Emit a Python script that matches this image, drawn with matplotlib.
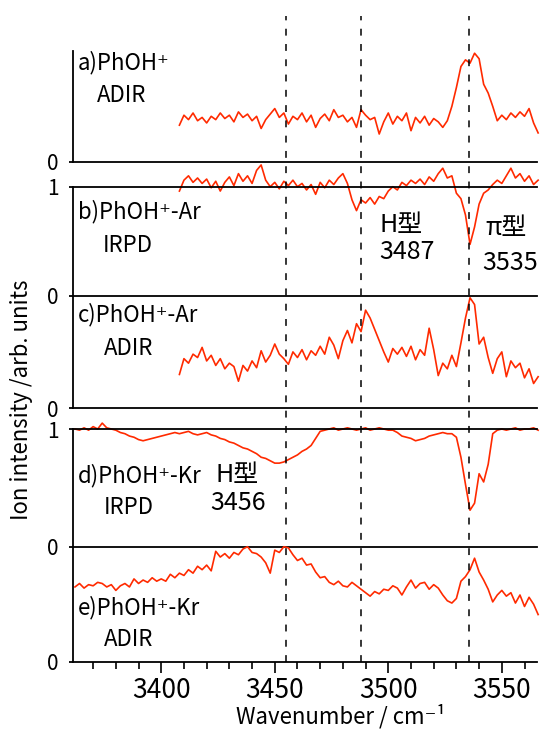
import numpy as np
import matplotlib
matplotlib.use("Agg")
import matplotlib.pyplot as plt
from matplotlib.ticker import MultipleLocator

plt.rcParams['font.family'] = ['Noto Sans CJK JP', 'DejaVu Sans']

start_short = 3408
start_long = 3362

a_adir = [0.33, 0.42, 0.38, 0.44, 0.37, 0.40, 0.35, 0.41, 0.38, 0.44,
          0.39, 0.42, 0.36, 0.45, 0.40, 0.43, 0.37, 0.41, 0.30, 0.38,
          0.43, 0.48, 0.40, 0.44, 0.34, 0.41, 0.38, 0.44, 0.36, 0.42,
          0.31, 0.39, 0.43, 0.37, 0.47, 0.40, 0.42, 0.36, 0.40, 0.31,
          0.47, 0.42, 0.38, 0.40, 0.25, 0.36, 0.44, 0.34, 0.41, 0.37,
          0.44, 0.28, 0.40, 0.35, 0.41, 0.33, 0.39, 0.36, 0.31, 0.37,
          0.50, 0.67, 0.86, 0.92, 0.89, 0.98, 0.93, 0.70, 0.62, 0.50,
          0.37, 0.42, 0.38, 0.44, 0.40, 0.45, 0.41, 0.48, 0.35, 0.26]

b_irpd = [0.96, 1.06, 1.10, 1.04, 1.08, 1.03, 1.07, 0.99, 1.05, 0.96,
          1.04, 1.09, 1.01, 1.12, 1.05, 1.10, 1.03, 1.15, 1.20, 1.06,
          1.00, 1.04, 0.98, 1.05, 1.01, 1.06, 1.00, 1.03, 0.97, 1.02,
          0.93, 1.04, 0.99, 1.06, 1.02, 1.08, 1.12, 1.03, 0.88, 0.78,
          0.88, 0.85, 0.90, 0.84, 0.91, 0.89, 0.96, 1.00, 0.97, 1.04,
          1.01, 1.06, 1.03, 1.07, 1.02, 1.09, 1.05, 1.12, 1.17, 1.08,
          1.10, 0.94, 0.89, 0.74, 0.47, 0.63, 0.84, 0.94, 0.97, 1.02,
          1.06, 1.03, 1.10, 1.17, 1.08, 1.12, 1.05, 1.10, 1.02, 1.06]

c_adir = [0.30, 0.44, 0.40, 0.48, 0.45, 0.54, 0.42, 0.47, 0.38, 0.44,
          0.35, 0.40, 0.37, 0.24, 0.38, 0.33, 0.42, 0.36, 0.51, 0.41,
          0.47, 0.57, 0.48, 0.44, 0.39, 0.50, 0.45, 0.52, 0.43, 0.51,
          0.47, 0.55, 0.48, 0.63, 0.56, 0.44, 0.60, 0.69, 0.58, 0.75,
          0.68, 0.87, 0.80, 0.70, 0.60, 0.50, 0.41, 0.53, 0.48, 0.54,
          0.46, 0.55, 0.43, 0.52, 0.47, 0.71, 0.52, 0.29, 0.40, 0.35,
          0.47, 0.37, 0.58, 0.80, 0.98, 0.92, 0.57, 0.63, 0.45, 0.31,
          0.44, 0.50, 0.28, 0.42, 0.36, 0.40, 0.27, 0.35, 0.22, 0.28]

d_irpd = [1.00, 0.99, 1.01, 0.99, 1.02, 1.00, 1.05, 1.01, 1.00, 0.99,
          0.97, 0.96, 0.94, 0.93, 0.91, 0.90, 0.91, 0.92, 0.93, 0.94,
          0.95, 0.96, 0.97, 0.96, 0.97, 0.98, 0.96, 0.95, 0.96, 0.97,
          0.95, 0.94, 0.92, 0.91, 0.89, 0.88, 0.86, 0.84, 0.83, 0.81,
          0.79, 0.76, 0.75, 0.73, 0.71, 0.71, 0.72, 0.74, 0.76, 0.78,
          0.81, 0.83, 0.86, 0.92, 0.98, 0.99, 1.00, 1.01, 0.99, 1.00,
          1.01, 1.00, 0.99, 1.00, 1.01, 0.99, 1.00, 1.01, 1.00, 0.99,
          0.99, 0.97, 0.94, 0.93, 0.92, 0.90, 0.91, 0.92, 0.94, 0.95,
          0.96, 0.97, 0.96, 0.96, 0.93, 0.76, 0.53, 0.31, 0.37, 0.62,
          0.55, 0.70, 0.96, 0.99, 1.00, 0.99, 1.00, 1.01, 0.99, 1.00,
          1.00, 1.01, 0.99]

e_adir = [0.65, 0.68, 0.64, 0.67, 0.66, 0.69, 0.68, 0.65, 0.67, 0.62,
          0.66, 0.68, 0.65, 0.72, 0.68, 0.71, 0.69, 0.73, 0.70, 0.72,
          0.70, 0.76, 0.73, 0.77, 0.75, 0.80, 0.77, 0.83, 0.80, 0.84,
          0.79, 0.96, 0.91, 0.94, 0.90, 0.95, 0.93, 0.98, 1.00, 0.95,
          0.94, 0.91, 0.86, 0.77, 0.97, 0.95, 1.00, 0.99, 0.93, 0.88,
          0.90, 0.84, 0.85, 0.78, 0.73, 0.74, 0.69, 0.67, 0.70, 0.66,
          0.65, 0.69, 0.66, 0.63, 0.60, 0.57, 0.61, 0.59, 0.63, 0.62,
          0.66, 0.64, 0.58, 0.65, 0.71, 0.64, 0.68, 0.69, 0.63, 0.67,
          0.64, 0.58, 0.53, 0.51, 0.55, 0.70, 0.74, 0.80, 0.90, 0.78,
          0.71, 0.63, 0.52, 0.58, 0.62, 0.57, 0.60, 0.51, 0.58, 0.48,
          0.56, 0.50, 0.41]

peak_lines = [3455, 3488, 3535.5]

W, H = 540, 731
fig = plt.figure(figsize=(W / 100, H / 100), dpi=100)

red = '#ff2a00'
xmin, xmax = 3361, 3565.5
left = 72.7 / W
width = 537 / W - left

def panel(top_px, bot_px, yt, x0, vals, top_line=False, xaxis=False):
    ax = fig.add_axes([left, 1 - bot_px / H, width, (bot_px - top_px) / H])
    x = x0 + 2 * np.arange(len(vals))
    ax.plot(x, vals, color=red, lw=1.2, clip_on=False)
    ax.set_xlim(xmin, xmax)
    ax.set_ylim(0, 1)
    ax.patch.set_alpha(0)
    for s in ['right', 'top']:
        ax.spines[s].set_visible(False)
    if top_line:
        ax.spines['top'].set_visible(True)
    for s in ax.spines.values():
        s.set_linewidth(1.3)
    ax.set_yticks(yt)
    ax.set_yticklabels([str(v) for v in yt])
    ax.tick_params(axis='y', length=3, width=1.3, direction='out', pad=7, labelsize=15)
    if xaxis:
        ax.xaxis.set_major_locator(MultipleLocator(50))
        ax.xaxis.set_minor_locator(MultipleLocator(10))
        ax.tick_params(axis='x', which='major', length=7.7, width=1.2, direction='out', pad=3, labelsize=19)
        ax.tick_params(axis='x', which='minor', length=4.8, width=1.2, direction='out')
    else:
        ax.tick_params(axis='x', which='both', bottom=False, labelbottom=False)
    return ax

panel(51, 161.7, [0], start_short, a_adir)
panel(186.7, 295.5, [0, 1], start_short, b_irpd, top_line=True)
panel(295.5, 408.3, [0], start_short, c_adir)
panel(429, 546.7, [0, 1], start_long, d_irpd, top_line=True)
panel(546.7, 661.7, [0], start_long, e_adir, xaxis=True)

# dashed guide lines across all panels
ov = fig.add_axes([left, 1 - 662 / H, width, (662 - 16) / H])
ov.set_xlim(xmin, xmax)
ov.set_ylim(0, 1)
ov.axis('off')
for xv in peak_lines:
    ov.axvline(xv, color='black', lw=1.1, linestyle=(0, (4.5, 5.5)))

def label(x, y, s, size=16):
    fig.text(x / W, 1 - y / H, s, ha='left', va='center', fontsize=size)

label(78, 63, 'a)PhOH⁺')
label(97, 95, 'ADIR')
label(78, 212, 'b)PhOH⁺-Ar')
label(103, 245, 'IRPD')
label(380, 225, 'H型', 18)
label(379, 252, '3487', 18)
label(485, 228, 'π型', 18)
label(482, 263, '3535', 18)
label(78, 315, 'c)PhOH⁺-Ar')
label(104, 348, 'ADIR')
label(78, 476, 'd)PhOH⁺-Kr')
label(215, 475, 'H型', 18)
label(210, 503, '3456', 18)
label(104, 507, 'IRPD')
label(78, 608, 'e)PhOH⁺-Kr')
label(104, 640, 'ADIR')

fig.text(22 / W, 1 - 400 / H, 'Ion intensity /arb. units', rotation=90,
         ha='center', va='center', fontsize=16)
fig.text(341 / W, 1 - 716 / H, 'Wavenumber / cm⁻¹', ha='center', va='center', fontsize=16)

fig.savefig('out.png', dpi=100)
